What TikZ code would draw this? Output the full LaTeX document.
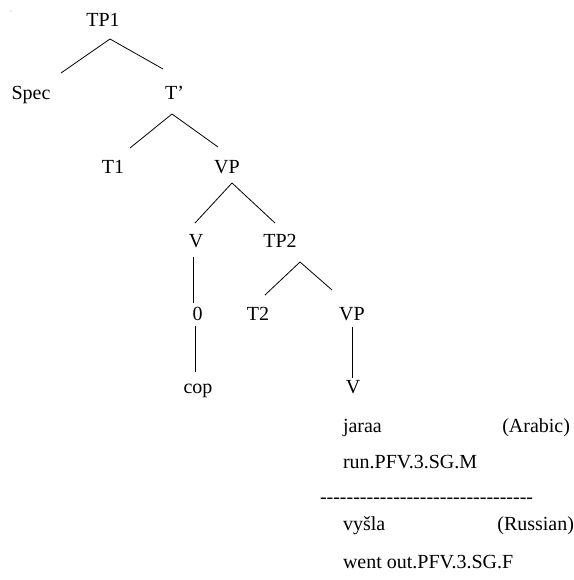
\documentclass[tikz,border=0pt]{standalone}
\usepackage{fontspec}
\setmainfont{Liberation Serif}
\begin{document}
\begin{tikzpicture}[x=1pt,y=-1pt,
  lbl/.style={inner sep=0pt,outer sep=0pt,anchor=base,font=\fontsize{20}{24}\selectfont},
  lblw/.style={lbl,anchor=base west},
  lble/.style={lbl,anchor=base east},
  edge/.style={line width=0.8pt}]
\useasboundingbox (0,0) rectangle (573,580);
\fill[gray!60] (11,11) circle (0.6);
% labels
\node[lbl] (TP1) at (103,27) {TP1};
\node[lbl] (Spec) at (31,100) {Spec};
\node[lbl] (Tbar) at (174.5,100) {T’};
\node[lbl] (T1) at (113,173) {T1};
\node[lbl] (VP1) at (227,173) {VP};
\node[lbl] (V1) at (196,247) {V};
\node[lbl] (TP2) at (280,247) {TP2};
\node[lbl] (zero) at (197.5,320) {0};
\node[lbl] (T2) at (258,320) {T2};
\node[lbl] (VP2) at (352,320) {VP};
\node[lbl] (cop) at (198,393) {cop};
\node[lbl] (V2) at (353,393) {V};
\node[lblw] (jaraa) at (343,432) {jaraa};
\node[lble] (arabic) at (570,432) {(Arabic)};
\node[lblw] (gloss1) at (343,468) {run.PFV.3.SG.M};
\node[lblw] (sep) at (320,503.5) {-{}-{}-{}-{}-{}-{}-{}-{}-{}-{}-{}-{}-{}-{}-{}-{}-{}-{}-{}-{}-{}-{}-{}-{}-{}-{}-{}-{}-{}-{}-{}-{}};
\node[lblw] (vysla) at (343,530) {vyšla};
\node[lble] (russian) at (574,530) {(Russian)};
\node[lblw] (gloss2) at (343,568) {went out.PFV.3.SG.F};
% connectors
\draw[edge] ([shift={(7,12)}]TP1.base) -- ([shift={(30,-27)}]Spec.base);
\draw[edge] ([shift={(7,12)}]TP1.base) -- ([shift={(-11.5,-31)}]Tbar.base);
\draw[edge] ([shift={(-2.5,14)}]Tbar.base) -- ([shift={(17,-25)}]T1.base);
\draw[edge] ([shift={(-2.5,14)}]Tbar.base) -- ([shift={(-9,-26)}]VP1.base);
\draw[edge] ([shift={(5,10)}]VP1.base) -- ([shift={(-1,-24)}]V1.base);
\draw[edge] ([shift={(5,10)}]VP1.base) -- ([shift={(-5,-24)}]TP2.base);
\draw[edge] ([shift={(-3,10)}]V1.base) -- ([shift={(-4.5,-17)}]zero.base);
\draw[edge] ([shift={(-2.5,6)}]zero.base) -- ([shift={(-3,-21)}]cop.base);
\draw[edge] ([shift={(20,15)}]TP2.base) -- ([shift={(7,-25)}]T2.base);
\draw[edge] ([shift={(20,15)}]TP2.base) -- ([shift={(-20,-30)}]VP2.base);
\draw[edge] ([shift={(0,7)}]VP2.base) -- ([shift={(-1,-15)}]V2.base);
\end{tikzpicture}
\end{document}
